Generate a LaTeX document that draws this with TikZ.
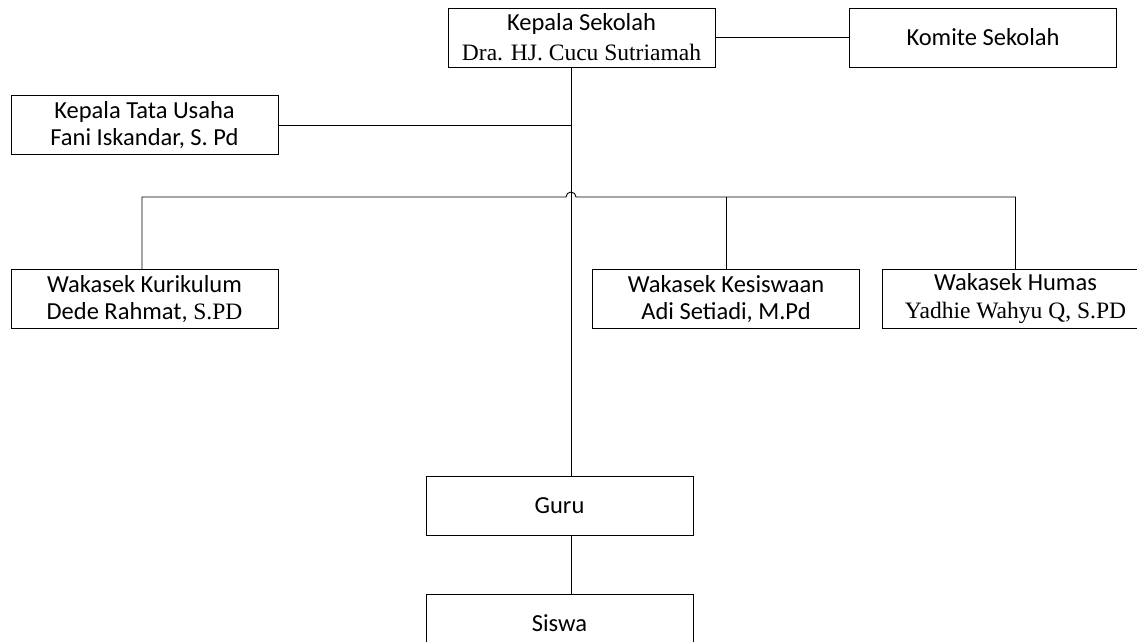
\documentclass[tikz,border=0pt]{standalone}
\usepackage{fontspec}
\setmainfont{Carlito}
\newfontfamily\tms[Scale=0.96]{Liberation Serif}
\begin{document}
\begin{tikzpicture}[x=1pt,y=-1pt,line width=.9pt,
    box/.style={draw,rectangle,minimum width=267pt,minimum height=59pt,inner sep=0pt,
      align=center,font=\fontsize{24.5}{27}\selectfont}]
  \useasboundingbox(0,0)rectangle(1137,642);
  \clip(0,0)rectangle(1137,642);
  \node[box](ks)at(581.5,37.5){Kepala Sekolah\\[3pt]{\tms Dra. HJ. Cucu Sutriamah}};
  \node[box](komite)at(983,37.5){Komite Sekolah};
  \node[box](ktu)at(144.5,125){Kepala Tata Usaha\\Fani Iskandar, S. Pd};
  \node[box](kur)at(144.5,299){Wakasek Kurikulum\\Dede Rahmat, {\tms S.PD}};
  \node[box](kes)at(726,299){Wakasek Kesiswaan\\Adi Setiadi, M.Pd};
  \node[box](hum)at(1015.5,299){Wakasek Humas\\[1pt]{\tms Yadhie Wahyu Q, S.PD}};
  \node[box](guru)at(559.5,506){Guru};
  \node[box](siswa)at(559.5,623.5){Siswa};
  \coordinate(tk)at(571,67);
  \coordinate(hop)at(571,197);
  \draw(ks.east)--(komite.west);
  \draw(tk)--(tk|-guru.north);
  \draw(ktu.east)--(ktu.east-|tk);
  \draw([xshift=-2.5pt]kur.north)|-([xshift=-5pt]hop)arc(180:360:5)--(hum.north|-hop)--(hum.north);
  \draw(kes.north)--(kes.north|-hop);
  \draw(guru.south-|tk)--(siswa.north-|tk);
\end{tikzpicture}
\end{document}
